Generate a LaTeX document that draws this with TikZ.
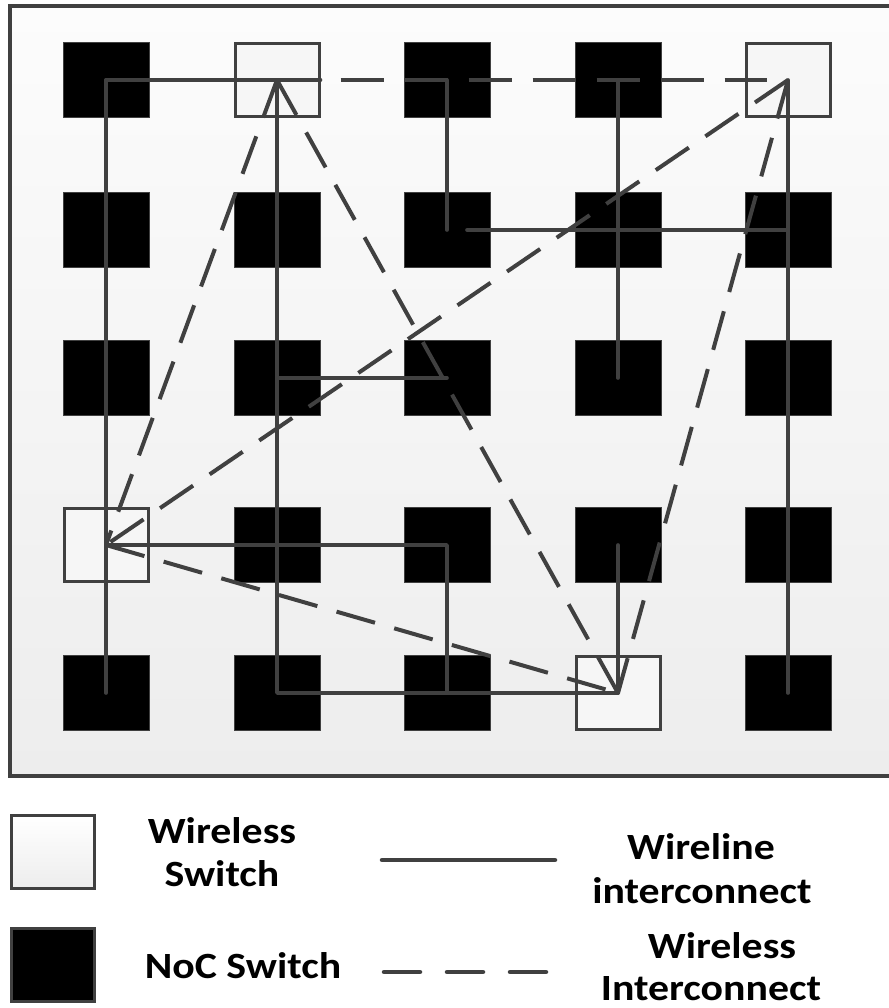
\documentclass[tikz,border=0pt]{standalone}
\usepackage{fontspec}
\usepackage{graphicx}
\setmainfont{Carlito}
\definecolor{lineclr}{HTML}{404040}
\definecolor{boxfill}{HTML}{F6F6F6}
\definecolor{bgtop}{HTML}{FCFCFC}
\definecolor{bgbot}{HTML}{EDEDED}
\newcommand{\wide}[1]{\scalebox{1.13}[1]{#1}}
\begin{document}
\begin{tikzpicture}[x=1pt,y=-1pt,
  wire/.style={draw=lineclr, line width=3.6pt, line cap=round, line join=round},
  wless/.style={draw=lineclr, line width=4pt, dash pattern=on 40pt off 20pt},
  noc/.style={fill=black, draw=black!75, line width=0.6pt, minimum width=86pt, minimum height=75pt, inner sep=0pt},
  wsw/.style={fill=boxfill, draw=lineclr, line width=3pt, minimum width=84pt, minimum height=73pt, inner sep=0pt},
  lbl/.style={font=\fontsize{37}{42}\selectfont\bfseries, anchor=base, inner sep=0pt}]
\useasboundingbox (0,0) rectangle (888,1008);
\fill[white] (0,0) rectangle (888,1008);

% chip frame
\shade[top color=bgtop, bottom color=bgbot] (10,6) rectangle (896,776);
\draw[lineclr, line width=3.5pt] (10,6) rectangle (896,776);

% row 1
\node[noc] (s11) at (106,80) {};
\node[wsw] (s21) at (277,80) {};
\node[noc] (s31) at (447,80) {};
\node[noc] (s41) at (618,80) {};
\node[wsw] (s51) at (788,80) {};
% row 2
\node[noc] (s12) at (106,230) {};
\node[noc] (s22) at (277,230) {};
\node[noc] (s32) at (447,230) {};
\node[noc] (s42) at (618,230) {};
\node[noc] (s52) at (788,230) {};
% row 3
\node[noc] (s13) at (106,378) {};
\node[noc] (s23) at (277,378) {};
\node[noc] (s33) at (447,378) {};
\node[noc] (s43) at (618,378) {};
\node[noc] (s53) at (788,378) {};
% row 4
\node[wsw] (s14) at (106,545) {};
\node[noc] (s24) at (277,545) {};
\node[noc] (s34) at (447,545) {};
\node[noc] (s44) at (618,545) {};
\node[noc] (s54) at (788,545) {};
% row 5
\node[noc] (s15) at (106,693) {};
\node[noc] (s25) at (277,693) {};
\node[noc] (s35) at (447,693) {};
\node[wsw] (s45) at (618,693) {};
\node[noc] (s55) at (788,693) {};

% wireline links
\draw[wire] (s11.center) -- (s21.east);
\draw[wire] (s11.center) -- (s15.center);
\draw[wire] (s21.center) -- (s25.center) -- (s45.center);
\draw[wire] (s23.center) -- (s33.center);
\draw[wire] (s14.center) -- (s34.center) -- (s35.center);
\draw[wire] (s31.center) -- (s32.center);
\draw[wire] ([xshift=20pt]s32.center) -- (s52.center);
\draw[wire] (s41.center) -- (s43.center);
\draw[wire] (s51.center) -- (s55.center);
\draw[wire] (s44.center) -- (s45.center);

% wireless links
\draw[wless, dash pattern=on 43pt off 21pt, shorten <=20pt, shorten >=21pt] (s21.east) -- (s51.center);
\draw[wless] (s21.center) -- (s14.center);
\draw[wless] (s21.center) -- (s45.center);
\draw[wless] (s51.center) -- (s14.center);
\draw[wless] (s51.center) -- (s45.center);
\draw[wless] (s14.center) -- (s45.center);

% legend
\node[top color=white, bottom color=bgbot, draw=lineclr, line width=3pt,
      minimum width=83pt, minimum height=73pt, inner sep=0pt] (lgw) at (52.5,851.5) {};
\node[fill=black, draw=lineclr, line width=3pt,
      minimum width=83pt, minimum height=73pt, inner sep=0pt] (lgn) at (52.5,965) {};
\coordinate (la) at (382,860);
\coordinate (lb) at (555,860);
\coordinate (lc) at (384,972);
\coordinate (ld) at (549,972);
\draw[wire, line width=4.5pt] (la) -- (lb);
\draw[draw=lineclr, line width=4.5pt, line cap=round, dash pattern=on 36pt off 27pt] (lc) -- (ld);

\node[lbl] (t1) at (222,843) {\wide{Wireless}};
\node[lbl] (t2) at (222,886) {\wide{Switch}};
\node[lbl] (t3) at (243,978) {\wide{NoC Switch}};
\node[lbl] (t4) at (701,859) {\wide{Wireline}};
\node[lbl] (t5) at (702,903) {\wide{interconnect}};
\node[lbl] (t6) at (722,958) {\wide{Wireless}};
\node[lbl] (t7) at (711,1000) {\wide{Interconnect}};
\end{tikzpicture}
\end{document}
